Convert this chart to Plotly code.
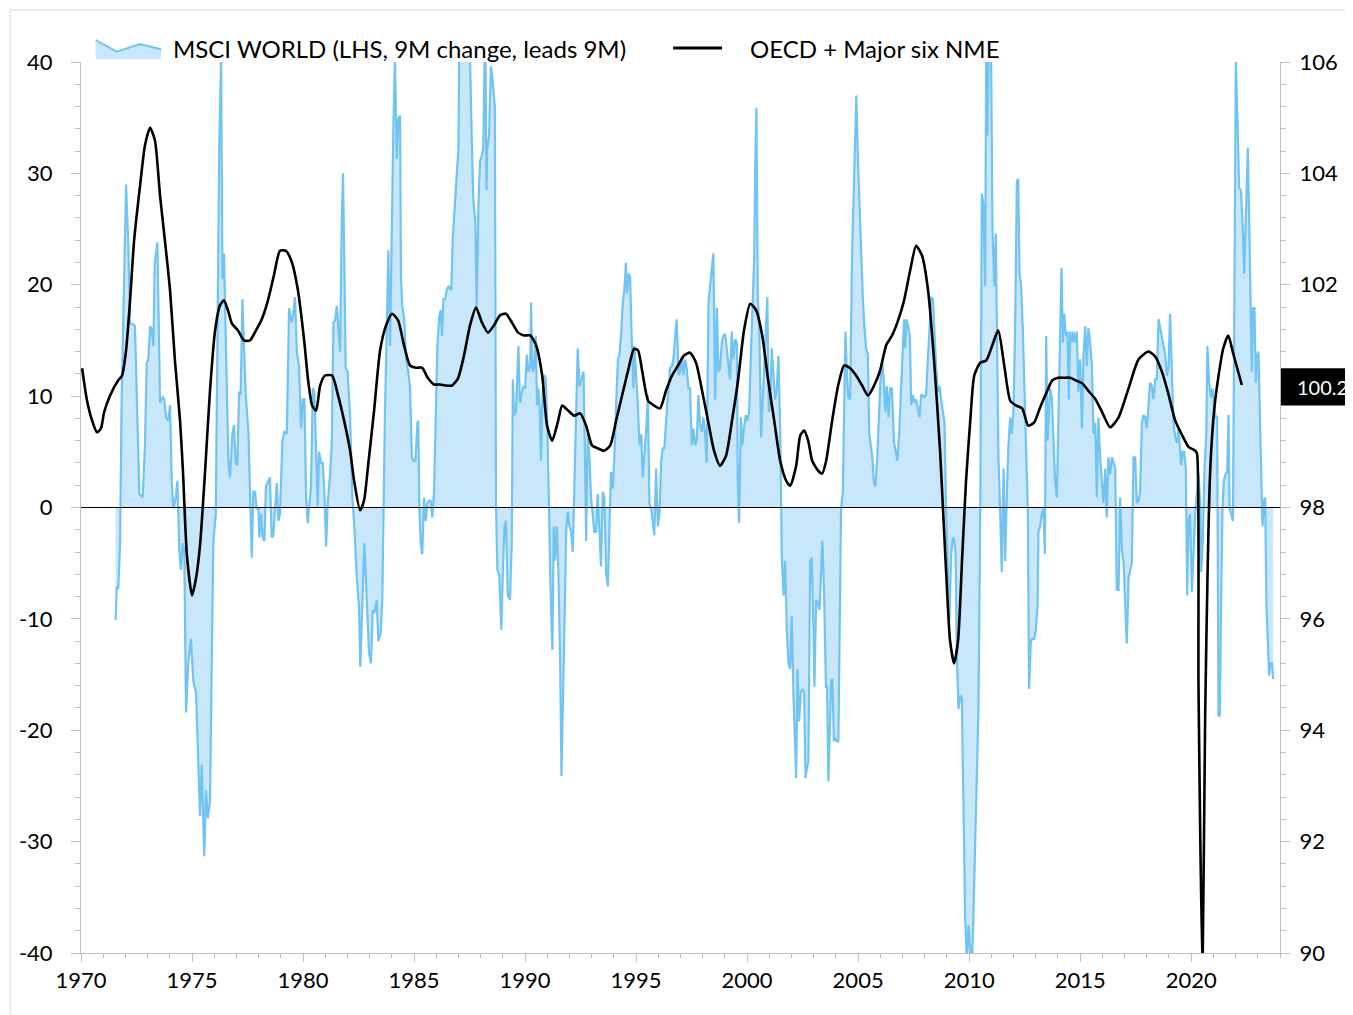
import plotly.graph_objects as go

# ---------------- data ----------------
# MSCI World, 9M change (%), shifted 9M forward (left axis)
msci_t = [
    1971.56, 1971.61, 1971.68, 1971.76, 1971.83, 1971.94,
    1972.03, 1972.13, 1972.21, 1972.43, 1972.54, 1972.63, 1972.78, 1972.88, 1972.96,
    1973.03, 1973.11, 1973.18, 1973.26, 1973.32, 1973.44, 1973.51, 1973.56, 1973.68, 1973.75, 1973.83, 1973.93,
    1974.01, 1974.09, 1974.16, 1974.27, 1974.34, 1974.43, 1974.50, 1974.58, 1974.65, 1974.73, 1974.83, 1974.95,
    1975.06, 1975.18, 1975.28, 1975.36, 1975.44, 1975.51, 1975.55, 1975.63, 1975.71, 1975.81, 1975.89, 1975.96,
    1976.07, 1976.14, 1976.23, 1976.31, 1976.37, 1976.44, 1976.55, 1976.64, 1976.71, 1976.82, 1976.89, 1976.97,
    1977.04, 1977.12, 1977.19, 1977.27, 1977.34, 1977.42, 1977.54, 1977.61, 1977.69, 1977.76, 1977.84, 1977.91, 1977.99,
    1978.03, 1978.11, 1978.18, 1978.26, 1978.33, 1978.44, 1978.51, 1978.59, 1978.66, 1978.74, 1978.82, 1978.89, 1978.96,
    1979.07, 1979.16, 1979.27, 1979.37, 1979.49, 1979.56, 1979.64, 1979.72, 1979.82, 1979.91, 1979.99,
    1980.06, 1980.14, 1980.21, 1980.28, 1980.36, 1980.44, 1980.51, 1980.59, 1980.66, 1980.72, 1980.81, 1980.89, 1980.96,
    1981.04, 1981.11, 1981.22, 1981.29, 1981.37, 1981.44, 1981.52, 1981.59, 1981.67, 1981.74, 1981.80, 1981.86, 1981.92,
    1982.01, 1982.12, 1982.22, 1982.31, 1982.42, 1982.52, 1982.58, 1982.67, 1982.76, 1982.87, 1982.97,
    1983.06, 1983.14, 1983.21, 1983.32, 1983.39, 1983.50, 1983.57, 1983.62, 1983.69, 1983.77, 1983.84, 1983.92,
    1984.00, 1984.07, 1984.14, 1984.22, 1984.29, 1984.37, 1984.41, 1984.47, 1984.56, 1984.64, 1984.74, 1984.82, 1984.90, 1984.97,
    1985.06, 1985.15, 1985.19, 1985.24, 1985.30, 1985.37, 1985.45, 1985.53, 1985.60, 1985.68, 1985.75, 1985.82, 1985.90, 1985.98,
    1986.05, 1986.13, 1986.20, 1986.26, 1986.32, 1986.40, 1986.47, 1986.55, 1986.62, 1986.68, 1986.74, 1986.85, 1986.92,
    1987.00, 1987.04, 1987.12, 1987.21, 1987.30, 1987.39, 1987.48, 1987.52, 1987.60, 1987.67, 1987.76, 1987.82, 1987.90, 1987.97,
    1988.05, 1988.12, 1988.17, 1988.21, 1988.26, 1988.30, 1988.38, 1988.46, 1988.53, 1988.64, 1988.69, 1988.75, 1988.84, 1988.93,
    1989.00, 1989.07, 1989.14, 1989.22, 1989.32, 1989.40, 1989.45, 1989.50, 1989.59, 1989.70, 1989.77, 1989.85, 1989.92,
    1990.00, 1990.08, 1990.15, 1990.23, 1990.27, 1990.33, 1990.41, 1990.48, 1990.54, 1990.60, 1990.66, 1990.72, 1990.78, 1990.86, 1990.93,
    1991.00, 1991.08, 1991.14, 1991.23, 1991.29, 1991.35, 1991.43, 1991.50, 1991.58, 1991.64, 1991.70, 1991.77, 1991.85, 1991.92,
    1992.00, 1992.07, 1992.15, 1992.22, 1992.30, 1992.37, 1992.45, 1992.52, 1992.63, 1992.70, 1992.75, 1992.82, 1992.90, 1992.97,
    1993.05, 1993.12, 1993.20, 1993.27, 1993.35, 1993.42, 1993.50, 1993.57, 1993.65, 1993.73, 1993.80, 1993.87, 1993.95,
    1994.02, 1994.10, 1994.18, 1994.25, 1994.32, 1994.40, 1994.47, 1994.54, 1994.59, 1994.67, 1994.73, 1994.81, 1994.88, 1994.92,
    1995.00, 1995.08, 1995.15, 1995.23, 1995.30, 1995.37, 1995.45, 1995.53, 1995.60, 1995.68, 1995.75, 1995.82, 1995.90, 1995.98,
    1996.05, 1996.13, 1996.20, 1996.27, 1996.38, 1996.45, 1996.53, 1996.61, 1996.68, 1996.76, 1996.83, 1996.91, 1996.98,
    1997.06, 1997.13, 1997.21, 1997.28, 1997.36, 1997.43, 1997.51, 1997.58, 1997.66, 1997.73, 1997.81, 1997.88, 1997.96,
    1998.03, 1998.11, 1998.18, 1998.26, 1998.33, 1998.41, 1998.48, 1998.56, 1998.64, 1998.71, 1998.78, 1998.86, 1998.93,
    1999.01, 1999.09, 1999.16, 1999.23, 1999.31, 1999.38, 1999.46, 1999.54, 1999.58, 1999.64, 1999.72, 1999.79, 1999.86, 1999.94,
    2000.01, 2000.09, 2000.17, 2000.24, 2000.32, 2000.37, 2000.42, 2000.48, 2000.55, 2000.63, 2000.71, 2000.78, 2000.86, 2000.91, 2000.98,
    2001.05, 2001.11, 2001.19, 2001.26, 2001.34, 2001.41, 2001.49, 2001.56, 2001.64, 2001.71, 2001.79, 2001.86, 2001.94,
    2002.01, 2002.09, 2002.16, 2002.21, 2002.27, 2002.34, 2002.42, 2002.49, 2002.57, 2002.63, 2002.70, 2002.76, 2002.84, 2002.91, 2002.99,
    2003.03, 2003.11, 2003.18, 2003.26, 2003.33, 2003.39, 2003.47, 2003.55, 2003.60, 2003.66, 2003.73, 2003.78, 2003.84, 2003.91, 2003.98,
    2004.05, 2004.11, 2004.18, 2004.23, 2004.31, 2004.37, 2004.43, 2004.50, 2004.56, 2004.64, 2004.72, 2004.79, 2004.86, 2004.92, 2004.99,
    2005.06, 2005.14, 2005.21, 2005.28, 2005.36, 2005.44, 2005.50, 2005.57, 2005.64, 2005.71, 2005.78, 2005.86, 2005.93,
    2006.00, 2006.08, 2006.16, 2006.22, 2006.29, 2006.37, 2006.44, 2006.52, 2006.56, 2006.62, 2006.70, 2006.77, 2006.85, 2006.92,
    2007.00, 2007.07, 2007.12, 2007.18, 2007.25, 2007.33, 2007.39, 2007.46, 2007.54, 2007.61, 2007.69, 2007.76, 2007.84, 2007.91, 2007.99,
    2008.06, 2008.14, 2008.21, 2008.29, 2008.37, 2008.44, 2008.51, 2008.59, 2008.66, 2008.74, 2008.82, 2008.89, 2008.96,
    2009.04, 2009.11, 2009.19, 2009.27, 2009.34, 2009.39, 2009.45, 2009.52, 2009.59, 2009.67, 2009.74, 2009.82, 2009.90, 2009.97,
    2010.05, 2010.12, 2010.19, 2010.27, 2010.35, 2010.42, 2010.50, 2010.57, 2010.64, 2010.72, 2010.77, 2010.82, 2010.91, 2010.98,
    2011.05, 2011.13, 2011.20, 2011.25, 2011.32, 2011.40, 2011.47, 2011.55, 2011.62, 2011.70, 2011.77, 2011.85, 2011.92,
    2012.00, 2012.07, 2012.15, 2012.21, 2012.27, 2012.34, 2012.42, 2012.49, 2012.57, 2012.64, 2012.70, 2012.78, 2012.85, 2012.93,
    2013.00, 2013.08, 2013.12, 2013.20, 2013.27, 2013.35, 2013.41, 2013.47, 2013.53, 2013.59, 2013.65, 2013.73, 2013.80, 2013.87, 2013.95,
    2014.02, 2014.10, 2014.16, 2014.22, 2014.28, 2014.36, 2014.43, 2014.49, 2014.55, 2014.63, 2014.70, 2014.77, 2014.85, 2014.92,
    2015.00, 2015.08, 2015.15, 2015.23, 2015.30, 2015.37, 2015.45, 2015.53, 2015.60, 2015.68, 2015.75, 2015.82, 2015.90, 2015.98,
    2016.05, 2016.13, 2016.20, 2016.27, 2016.35, 2016.43, 2016.50, 2016.58, 2016.65, 2016.73, 2016.80, 2016.88, 2016.95,
    2017.03, 2017.10, 2017.18, 2017.25, 2017.33, 2017.40, 2017.48, 2017.55, 2017.63, 2017.70, 2017.78, 2017.85, 2017.93,
    2018.00, 2018.08, 2018.15, 2018.23, 2018.30, 2018.38, 2018.45, 2018.53, 2018.60, 2018.68, 2018.75, 2018.83, 2018.91, 2018.98,
    2019.05, 2019.13, 2019.20, 2019.28, 2019.36, 2019.43, 2019.50, 2019.55, 2019.61, 2019.68, 2019.76, 2019.82, 2019.88, 2019.95,
    2020.03, 2020.10, 2020.18, 2020.26, 2020.33, 2020.41, 2020.45, 2020.53, 2020.60, 2020.68, 2020.73, 2020.81, 2020.89, 2020.96,
    2021.04, 2021.11, 2021.17, 2021.23, 2021.29, 2021.35, 2021.41, 2021.47, 2021.55, 2021.62, 2021.68, 2021.73, 2021.80, 2021.88, 2021.95,
    2022.01, 2022.09, 2022.16, 2022.24, 2022.31, 2022.39, 2022.46, 2022.55, 2022.61, 2022.67, 2022.73, 2022.79, 2022.85, 2022.91, 2022.97,
    2023.03, 2023.10, 2023.15, 2023.21, 2023.28, 2023.33, 2023.39, 2023.46, 2023.51, 2023.57, 2023.64, 2023.69,
]
msci_v = [
    -10.1, -7.1, -7.3, -3.2, 9.7, 22.5,
    29.0, 23.6, 16.6, 16.3, 7.1, 1.2, 0.9, 5.6, 13.0,
    13.3, 16.3, 16.0, 14.5, 22.0, 23.8, 14.8, 9.4, 9.9, 9.7, 8.1, 7.8,
    9.2, 2.2, -0.1, 0.9, 2.4, -3.8, -5.6, -3.2, -3.8, -18.4, -14.0, -11.8,
    -15.6, -16.6, -22.8, -27.7, -23.1, -27.9, -31.3, -25.4, -27.9, -26.4, -16.1, -3.2,
    -0.6, 17.4, 32.9, 40.5, 20.5, 22.8, 12.0, 4.0, 2.7, 6.6, 7.4, 4.0,
    3.8, 10.4, 10.1, 18.7, 14.5, 10.1, 6.8, 0.9, -4.5, 1.4, 1.4, -0.1, -0.1,
    -2.7, -0.6, -2.7, -3.0, 1.9, 2.4, 2.7, -2.7, -2.5, -0.1, 2.2, -1.2, -0.6,
    6.0, 6.8, 6.6, 17.9, 16.6, 17.4, 18.9, 14.0, 12.7, 7.1, 9.7,
    9.7, 0.9, -1.4, 0.1, 1.9, 10.7, 10.4, 5.0, 0.1, 5.0, 4.0, 4.0, 1.4,
    -3.5, 0.4, 3.0, 5.6, 16.6, 16.8, 18.1, 16.3, 14.0, 25.1, 30.0, 22.0, 12.5,
    12.2, 8.1, 0.9, -1.7, -6.3, -8.9, -14.3, -8.3, -3.2, -8.3, -13.0,
    -14.0, -9.2, -9.5, -8.3, -12.0, -11.2, -8.3, 1.4, 8.6, 15.8, 23.1, 14.5,
    27.6, 34.4, 40.3, 31.3, 34.9, 35.2, 20.7, 18.1, 16.9, 13.3, 12.2, 10.7, 4.5, 4.2,
    4.2, 7.6, 7.8, -0.1, -3.2, -4.2, 0.9, -1.2, 0.4, 0.6, 0.6, -0.9, 1.4, 9.7,
    14.5, 17.1, 17.7, 15.4, 18.7, 18.7, 19.5, 19.9, 19.7, 19.5, 24.1, 27.6, 30.8,
    32.3, 42.0, 48.0, 52.0, 55.0, 50.0, 44.0, 40.5, 32.9, 27.6, 25.7, 17.9, 27.2, 31.1,
    31.6, 32.3, 39.6, 43.0, 28.5, 32.3, 33.4, 39.6, 38.5, 35.9, 0.4, -5.6, -6.1, -11.0,
    -5.8, -1.7, -1.2, -7.9, -8.3, -3.2, 11.5, 8.3, 8.6, 14.5, 9.4, 10.1, 10.9,
    10.7, 13.7, 12.2, 12.7, 18.4, 12.2, 12.5, 15.4, 9.2, 10.7, 8.6, 4.2, 10.1, 11.9, 11.6,
    7.6, -0.1, -6.8, -12.8, -1.7, -4.8, -1.7, -5.8, -14.0, -24.1, -16.1, -11.0, -2.2, -0.4,
    -1.7, -2.2, -4.0, 1.9, 9.7, 14.3, 10.9, 11.5, 12.2, 4.5, -3.0, 6.6, 4.5, 0.9,
    -1.2, -2.2, -2.2, 1.2, -2.2, -5.3, 1.4, 0.9, -5.8, -7.1, -1.7, 3.2, 1.7,
    4.5, 9.2, 13.3, 13.7, 15.4, 18.4, 19.5, 22.0, 19.2, 21.0, 20.7, 14.8, 10.7, 14.5,
    11.8, 9.2, 5.6, 6.6, 2.7, 4.5, 6.8, 10.1, 0.4, -0.1, -1.2, -2.5, 3.5, -1.7,
    -0.6, 4.2, 5.3, 5.3, 8.6, 10.1, 12.5, 12.7, 13.3, 15.4, 16.9, 11.9, 12.2,
    13.6, 11.9, 13.3, 12.5, 10.7, 10.7, 5.6, 7.1, 5.6, 6.0, 10.1, 7.4, 6.8,
    8.1, 6.6, 4.0, 18.4, 19.9, 21.0, 22.8, 9.7, 17.9, 12.2, 12.5, 14.8, 15.4,
    15.6, 14.3, 13.0, 11.5, 15.8, 13.3, 15.1, 14.8, 2.2, -1.4, 8.1, 5.6, 7.1, 8.3,
    7.8, 8.6, 13.7, 17.9, 22.5, 31.3, 35.9, 18.9, 15.8, 6.3, 9.9, 12.5, 16.3, 18.9, 8.6,
    9.4, 14.3, 11.8, 9.7, 10.7, 13.6, 7.1, -4.2, -7.9, -4.8, -11.0, -14.0, -14.5,
    -9.7, -17.1, -21.3, -24.3, -14.5, -19.2, -16.6, -16.3, -16.6, -24.3, -23.3, -22.8, -4.8, -4.5, -11.0,
    -16.1, -8.3, -8.6, -9.2, -5.8, -3.0, -7.9, -16.1, -16.1, -24.6, -19.7, -15.6, -15.4, -21.0, -20.7,
    -21.0, -21.0, -8.9, -0.1, 1.4, 7.1, 15.8, 11.8, 9.9, 9.7, 22.0, 27.6, 32.3, 37.0, 31.3,
    27.2, 23.1, 18.9, 16.3, 14.3, 13.7, 6.6, 5.6, 4.5, 2.2, 1.9, 4.5, 8.6,
    11.2, 13.3, 11.2, 8.6, 10.9, 8.1, 10.7, 10.7, 8.1, 5.8, 5.0, 4.2, 6.8, 9.7,
    12.7, 16.9, 14.3, 16.9, 16.3, 15.4, 9.2, 10.1, 9.4, 9.7, 8.9, 8.1, 10.1, 10.1, 9.9,
    10.1, 13.3, 16.3, 18.9, 18.7, 15.4, 12.7, 10.4, 10.9, 9.7, 8.6, 7.6, -0.1,
    -5.8, -10.0, -4.2, -2.7, -3.0, -4.2, -13.6, -18.1, -16.9, -17.1, -26.4, -36.8, -41.0, -37.5,
    -39.8, -42.0, -36.8, -30.5, -24.3, -18.1, -0.6, 28.2, 27.2, 19.9, 42.0, 33.4, 45.0, 43.0,
    25.1, 19.9, 24.6, 14.3, 4.5, -0.6, -5.8, 3.5, -4.8, 1.4, 5.6, 8.1, 6.6,
    8.9, 16.1, 29.3, 29.5, 21.0, 19.9, 15.8, 10.1, 5.6, -0.1, -16.3, -12.0, -11.8, -11.8,
    -11.0, -8.9, -2.2, -1.7, -0.6, -0.1, -4.2, 15.4, 6.0, 8.6, 10.7, 9.7, 5.0, 2.4, 0.9,
    9.7, 15.8, 21.5, 14.8, 17.4, 15.4, 15.8, 9.7, 15.8, 14.8, 15.8, 14.8, 15.8, 10.4,
    13.3, 7.1, 13.7, 16.3, 12.7, 16.1, 14.8, 12.7, 6.6, 7.6, 0.9, 8.1, 4.5, 1.9,
    0.4, 3.5, -0.9, 4.5, 3.0, 4.5, 4.0, 3.5, -7.4, -7.4, 0.9, -3.8, -4.8,
    -8.3, -12.2, -6.3, -5.8, -5.0, 4.5, 4.5, 0.4, 0.6, 1.4, 7.6, 8.3, 8.1,
    7.1, 9.7, 11.2, 10.9, 9.7, 11.5, 11.5, 16.9, 16.1, 15.4, 14.5, 13.7, 11.8, 12.7,
    17.4, 11.8, 7.6, 6.3, 5.8, 7.1, 5.3, 3.8, 5.0, 5.0, 3.5, -7.9, -1.2, -0.6,
    -7.6, -4.2, -0.6, 1.4, 3.0, 0.4, -5.8, -2.7, 3.5, 6.6, 14.5, 11.2, 9.9, 10.7,
    8.9, 8.1, 8.1, -18.7, -18.7, -7.9, -0.1, 2.4, 3.0, 3.2, 8.3, -0.1, -0.6, -1.2, 19.9,
    40.3, 34.4, 28.7, 28.5, 25.7, 21.0, 26.7, 32.3, 26.1, 18.1, 12.2, 17.9, 17.9, 11.2, 13.7,
    14.0, 7.6, 0.9, -1.7, 0.6, 0.9, -8.9, -12.0, -15.1, -14.0, -14.0, -15.4,
]

# OECD + Major six NME composite leading indicator (right axis)
cli_t = [
    1970.05, 1970.27, 1970.50, 1970.72, 1970.90,
    1971.04, 1971.31, 1971.67, 1971.85,
    1972.03, 1972.21, 1972.39, 1972.66, 1972.88,
    1973.11, 1973.33, 1973.56, 1973.78,
    1974.01, 1974.23, 1974.46, 1974.59, 1974.77,
    1975.00, 1975.18, 1975.36, 1975.59, 1975.81,
    1976.04, 1976.26, 1976.44, 1976.62, 1976.80,
    1977.07, 1977.34, 1977.61, 1977.88,
    1978.15, 1978.42, 1978.69, 1978.96,
    1979.23, 1979.50, 1979.77,
    1980.05, 1980.23, 1980.41, 1980.59, 1980.77, 1980.99,
    1981.31, 1981.58, 1981.85,
    1982.12, 1982.30, 1982.57, 1982.75, 1982.93,
    1983.20, 1983.47, 1983.74,
    1984.01, 1984.28, 1984.55, 1984.82,
    1985.09, 1985.36, 1985.63, 1985.90,
    1986.17, 1986.44, 1986.71, 1986.98,
    1987.25, 1987.52, 1987.79,
    1988.06, 1988.33, 1988.60, 1988.87,
    1989.14, 1989.41, 1989.69, 1989.95,
    1990.23, 1990.50, 1990.77, 1990.99,
    1991.22, 1991.49, 1991.67, 1991.94,
    1992.21, 1992.48, 1992.75,
    1993.02, 1993.29, 1993.56, 1993.83,
    1994.10, 1994.37, 1994.64, 1994.91,
    1995.09, 1995.27, 1995.54, 1995.81,
    1996.08, 1996.35, 1996.62, 1996.89,
    1997.16, 1997.43, 1997.70, 1997.97,
    1998.24, 1998.51, 1998.78,
    1999.05, 1999.32, 1999.59, 1999.86,
    2000.14, 2000.41, 2000.68, 2000.95,
    2001.22, 2001.49, 2001.76, 2001.94,
    2002.21, 2002.39, 2002.57, 2002.75, 2002.93,
    2003.20, 2003.38, 2003.56, 2003.83,
    2004.10, 2004.37, 2004.64, 2004.91,
    2005.18, 2005.45, 2005.72, 2005.99,
    2006.26, 2006.53, 2006.80,
    2007.07, 2007.34, 2007.61, 2007.88,
    2008.15, 2008.42, 2008.69, 2008.96,
    2009.14, 2009.32, 2009.50, 2009.68, 2009.86,
    2010.05, 2010.23, 2010.50, 2010.77,
    2011.04, 2011.31, 2011.58, 2011.85,
    2012.12, 2012.39, 2012.66, 2012.93,
    2013.20, 2013.47, 2013.74,
    2014.01, 2014.28, 2014.55, 2014.82,
    2015.09, 2015.36, 2015.68, 2015.98,
    2016.35, 2016.73,
    2017.18, 2017.63,
    2018.08, 2018.38, 2018.68, 2018.98,
    2019.28, 2019.58, 2019.88,
    2020.18, 2020.26, 2020.33, 2020.51, 2020.63, 2020.86,
    2021.08, 2021.44, 2021.67, 2021.89,
    2022.28,
]
cli_v = [
    100.50, 99.92, 99.56, 99.35, 99.42,
    99.71, 100.01, 100.28, 100.37,
    100.82, 101.72, 102.79, 103.78, 104.50,
    104.82, 104.59, 103.60, 102.79,
    101.90, 100.64, 99.56, 98.66, 97.14,
    96.42, 96.73, 97.32, 98.66, 100.10,
    101.18, 101.63, 101.72, 101.54, 101.30,
    101.18, 101.00, 101.00, 101.18,
    101.39, 101.72, 102.17, 102.61,
    102.61, 102.40, 101.90,
    101.00, 100.28, 99.83, 99.74, 100.19, 100.37,
    100.37, 100.01, 99.56,
    99.02, 98.48, 97.95, 98.13, 98.75,
    99.74, 100.82, 101.27,
    101.48, 101.36, 100.91, 100.55,
    100.51, 100.51, 100.32, 100.21,
    100.21, 100.19, 100.19, 100.32,
    100.73, 101.27, 101.59,
    101.32, 101.14, 101.27, 101.45,
    101.48, 101.32, 101.14, 101.09,
    101.09, 100.91, 100.37, 99.47,
    99.20, 99.56, 99.83, 99.74,
    99.65, 99.69, 99.47,
    99.11, 99.06, 99.02, 99.11,
    99.56, 100.01, 100.46, 100.85,
    100.82, 100.46, 99.92, 99.83,
    99.78, 100.10, 100.37, 100.55,
    100.73, 100.78, 100.60, 100.10,
    99.56, 99.02, 98.75,
    98.93, 99.56, 100.28, 101.18,
    101.66, 101.54, 101.09, 100.28,
    99.56, 98.84, 98.48, 98.39,
    98.75, 99.29, 99.38, 99.20, 98.84,
    98.66, 98.61, 98.84, 99.56,
    100.19, 100.55, 100.50, 100.37,
    100.19, 100.01, 100.19, 100.46,
    100.91, 101.09, 101.36,
    101.72, 102.25, 102.70, 102.52,
    101.90, 100.64, 99.02, 96.87,
    95.61, 95.20, 95.61, 97.05, 98.48,
    99.56, 100.37, 100.60, 100.64,
    100.91, 101.18, 100.55, 99.92,
    99.83, 99.78, 99.47, 99.53,
    99.80, 100.05, 100.28,
    100.33, 100.33, 100.33, 100.28,
    100.23, 100.10, 99.95, 99.72,
    99.44, 99.62,
    100.14, 100.66,
    100.80, 100.71, 100.44, 100.03,
    99.56, 99.31, 99.09,
    99.02, 98.97, 94.80, 89.60, 94.27, 98.70,
    99.92, 100.85, 101.09, 100.77,
    100.20,
]

x_ticks = [1970, 1975, 1980, 1985, 1990, 1995, 2000, 2005, 2010, 2015, 2020]
left_ticks = [-40, -30, -20, -10, 0, 10, 20, 30, 40]
right_ticks = [90, 92, 94, 96, 98, 100, 102, 104, 106]

msci_name = "MSCI WORLD (LHS, 9M change, leads 9M)"
cli_name = "OECD + Major six NME"

assert len(msci_t) == len(msci_v), (len(msci_t), len(msci_v))
assert len(cli_t) == len(cli_v), (len(cli_t), len(cli_v))

# ---------------- style ----------------
FONT = "Lato"
LINE_BLUE = "rgb(113,196,242)"
FILL_BLUE = "rgb(201,231,250)"
AXIS_GREY = "#BFBFBF"

fig = go.Figure()
fig.add_trace(go.Scatter(
    x=msci_t, y=msci_v, name=msci_name, mode="lines",
    line=dict(color=LINE_BLUE, width=2.2),
    fill="tozeroy", fillcolor=FILL_BLUE, yaxis="y",
))
fig.add_trace(go.Scatter(
    x=cli_t, y=cli_v, name=cli_name, mode="lines",
    line=dict(color="black", width=2.6, shape="spline", smoothing=0.6), yaxis="y2",
))

last_val = cli_v[-1]
# the right-axis tick that sits under the last-value box is hidden by it in the original
right_ticktext = ["" if abs(v - last_val) < 0.5 else str(v) for v in right_ticks]

tickfont = dict(family=FONT, size=22, color="black")
fig.update_layout(
    width=1345, height=1007,
    margin=dict(l=73, r=73, t=54, b=62),
    paper_bgcolor="white", plot_bgcolor="white",
    showlegend=False,
    font=dict(family=FONT, color="black"),
    xaxis=dict(
        range=[1970, 2024], tickmode="array", tickvals=x_ticks,
        ticktext=[str(v) for v in x_ticks],
        ticks="outside", ticklen=8, tickcolor=AXIS_GREY, tickwidth=1,
        showline=True, linecolor=AXIS_GREY, linewidth=1,
        showgrid=False, zeroline=False, tickfont=tickfont,
        minor=dict(dtick=1, tick0=1970, ticks="outside", ticklen=4,
                   tickcolor=AXIS_GREY, showgrid=False),
    ),
    yaxis=dict(
        range=[-40, 40], tickmode="array", tickvals=left_ticks,
        ticktext=[str(v) for v in left_ticks],
        ticks="outside", ticklen=9, tickcolor=AXIS_GREY,
        showline=True, linecolor=AXIS_GREY, linewidth=1,
        showgrid=False, zeroline=False, tickfont=tickfont,
        ticklabelstandoff=14,
        minor=dict(dtick=2, tick0=0, ticks="outside", ticklen=5,
                   tickcolor=AXIS_GREY, showgrid=False),
    ),
    yaxis2=dict(
        range=[90, 106], tickmode="array", tickvals=right_ticks,
        ticktext=right_ticktext,
        overlaying="y", side="right",
        ticks="outside", ticklen=9, tickcolor=AXIS_GREY,
        showline=True, linecolor=AXIS_GREY, linewidth=1,
        showgrid=False, zeroline=False, tickfont=tickfont,
        ticklabelstandoff=5,
        minor=dict(dtick=0.4, tick0=90, ticks="outside", ticklen=5,
                   tickcolor=AXIS_GREY, showgrid=False),
    ),
)

# zero line on top of the area fill
fig.add_shape(type="line", xref="paper", yref="y", x0=0, x1=1, y0=0, y1=0,
              line=dict(color="black", width=1), layer="above")

# outer chart border
fig.add_shape(type="rect", xref="paper", yref="paper",
              x0=-0.0592, x1=1.07, y0=-0.08, y1=1.0584,
              line=dict(color="#D9D9D9", width=1), layer="below")

# custom legend (icons + text)
fig.add_shape(type="path", xref="paper", yref="paper",
              path="M 0.01226,1.00303 L 0.01226,1.02469 L 0.02977,1.01156 L 0.04921,1.02020 "
                   "L 0.06672,1.01425 L 0.06672,1.00303 Z",
              fillcolor=FILL_BLUE, line=dict(width=0), layer="above")
fig.add_shape(type="path", xref="paper", yref="paper",
              path="M 0.01226,1.02469 L 0.02977,1.01156 L 0.04921,1.02020 L 0.06672,1.01425",
              line=dict(color=LINE_BLUE, width=2), layer="above")
fig.add_annotation(text=msci_name, xref="paper", yref="paper", x=0.0751, y=1.0157,
                   xanchor="left", yanchor="middle", showarrow=False,
                   font=dict(family=FONT, size=24, color="black"))
fig.add_shape(type="line", xref="paper", yref="paper", x0=0.4938, x1=0.5346,
              y0=1.0157, y1=1.0157, line=dict(color="black", width=3))
fig.add_annotation(text=cli_name, xref="paper", yref="paper", x=0.5563, y=1.0157,
                   xanchor="left", yanchor="middle", showarrow=False,
                   font=dict(family=FONT, size=24, color="black"))

# last value label on the right axis
fig.add_shape(type="rect", xref="paper", yref="y2", x0=1.0008, x1=1.07,
              y0=last_val - 0.37, y1=last_val + 0.30,
              fillcolor="black", line=dict(width=0), layer="above")
fig.add_annotation(text=f"{last_val:.1f}", xref="paper", yref="y2", x=1.0125, y=last_val - 0.03,
                   xanchor="left", yanchor="middle", showarrow=False,
                   font=dict(family=FONT, size=20, color="white"))

fig.write_html("out.html")
